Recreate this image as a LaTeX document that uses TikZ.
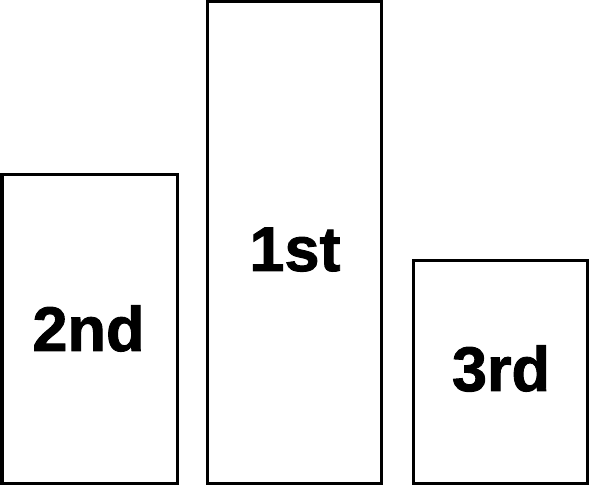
\documentclass[tikz,border=0pt]{standalone}
\usepackage{fontspec}
\setmainfont{Liberation Sans}[BoldFeatures={FakeBold=1.5}]
\begin{document}
\begin{tikzpicture}[x=1pt,y=-1pt,
  podium/.style={draw=black,line width=3pt,fill=white,inner sep=0pt,outer sep=0pt,anchor=north west},
  place/.style={anchor=base,inner sep=0pt,font=\fontsize{63}{70}\selectfont\bfseries}]
\useasboundingbox[fill=white] (0,0) rectangle (590,486);
\node[podium,minimum width=175pt,minimum height=309pt] (second) at (2,174.5) {};
\node[podium,minimum width=174pt,minimum height=481.5pt] (first) at (207.5,2) {};
\node[podium,minimum width=174pt,minimum height=223pt] (third) at (413.5,260.5) {};
\node[place] (t2) at (88.5,351) {2nd};
\node[place] (t1) at (295,271) {1st};
\node[place] (t3) at (501,391) {3rd};
\end{tikzpicture}
\end{document}
